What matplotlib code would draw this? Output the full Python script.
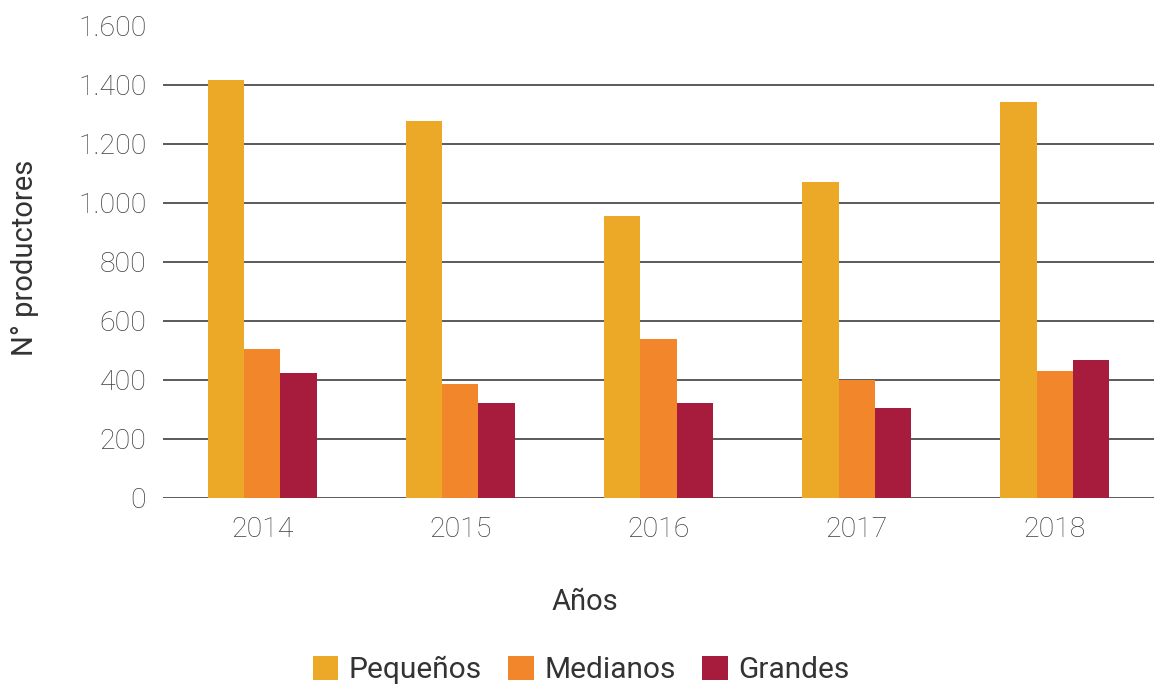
import matplotlib
matplotlib.use("Agg")
import matplotlib.pyplot as plt
import numpy as np
from matplotlib.ticker import FuncFormatter

plt.rcParams['font.family'] = ['Roboto', 'DejaVu Sans']

years = ["2014", "2015", "2016", "2017", "2018"]
pequenos = [1414, 1278, 956, 1069, 1342]
medianos = [505, 386, 539, 398, 431]
grandes = [423, 322, 322, 305, 468]
series_names = ["Pequeños", "Medianos", "Grandes"]
colors = ["#EBA927", "#F2862B", "#A71C3D"]

fig = plt.figure(figsize=(11.54, 6.85), dpi=100)
ax = fig.add_axes([163/1154, 1-498/685, 1-163/1154, (498-25.5)/685])

x = np.arange(len(years))
w = 0.183
for i, (vals, name, c) in enumerate(zip([pequenos, medianos, grandes], series_names, colors)):
    ax.bar(x + (i - 1) * w, vals, width=w, color=c, label=name, zorder=3, linewidth=0)

ax.set_xlim(-0.5, len(years) - 0.5)
ax.set_ylim(0, 1600)
ax.set_yticks(np.arange(0, 1601, 200))
ax.yaxis.set_major_formatter(FuncFormatter(lambda v, p: f"{int(v):,}".replace(",", ".")))
ax.set_xticks(x)
ax.set_xticklabels(years)
ax.grid(axis='y', color='#2e2e2e', linewidth=1.1, zorder=0)
for s in ax.spines.values():
    s.set_visible(False)
ax.tick_params(axis='both', length=0, labelsize=20.5, labelcolor='#3f3f3f')
ax.tick_params(axis='y', pad=12)
ax.tick_params(axis='x', pad=13)
for lab in ax.get_xticklabels() + ax.get_yticklabels():
    lab.set_fontweight('light')

fig.text(585/1154, 1-602/685, "Años", ha='center', va='center', fontsize=21, color='#333333')
fig.text(25/1154, 1-258/685, "N° productores", ha='center', va='center', rotation=90,
         fontsize=21, color='#333333')

fig.legend(loc='center', bbox_to_anchor=(581/1154, 1-670/685), ncol=3, frameon=False,
           fontsize=21.5, handlelength=0.85, handleheight=0.85, handletextpad=0.35,
           columnspacing=0.9, labelcolor='#333333')

fig.savefig("out.png", dpi=100)
